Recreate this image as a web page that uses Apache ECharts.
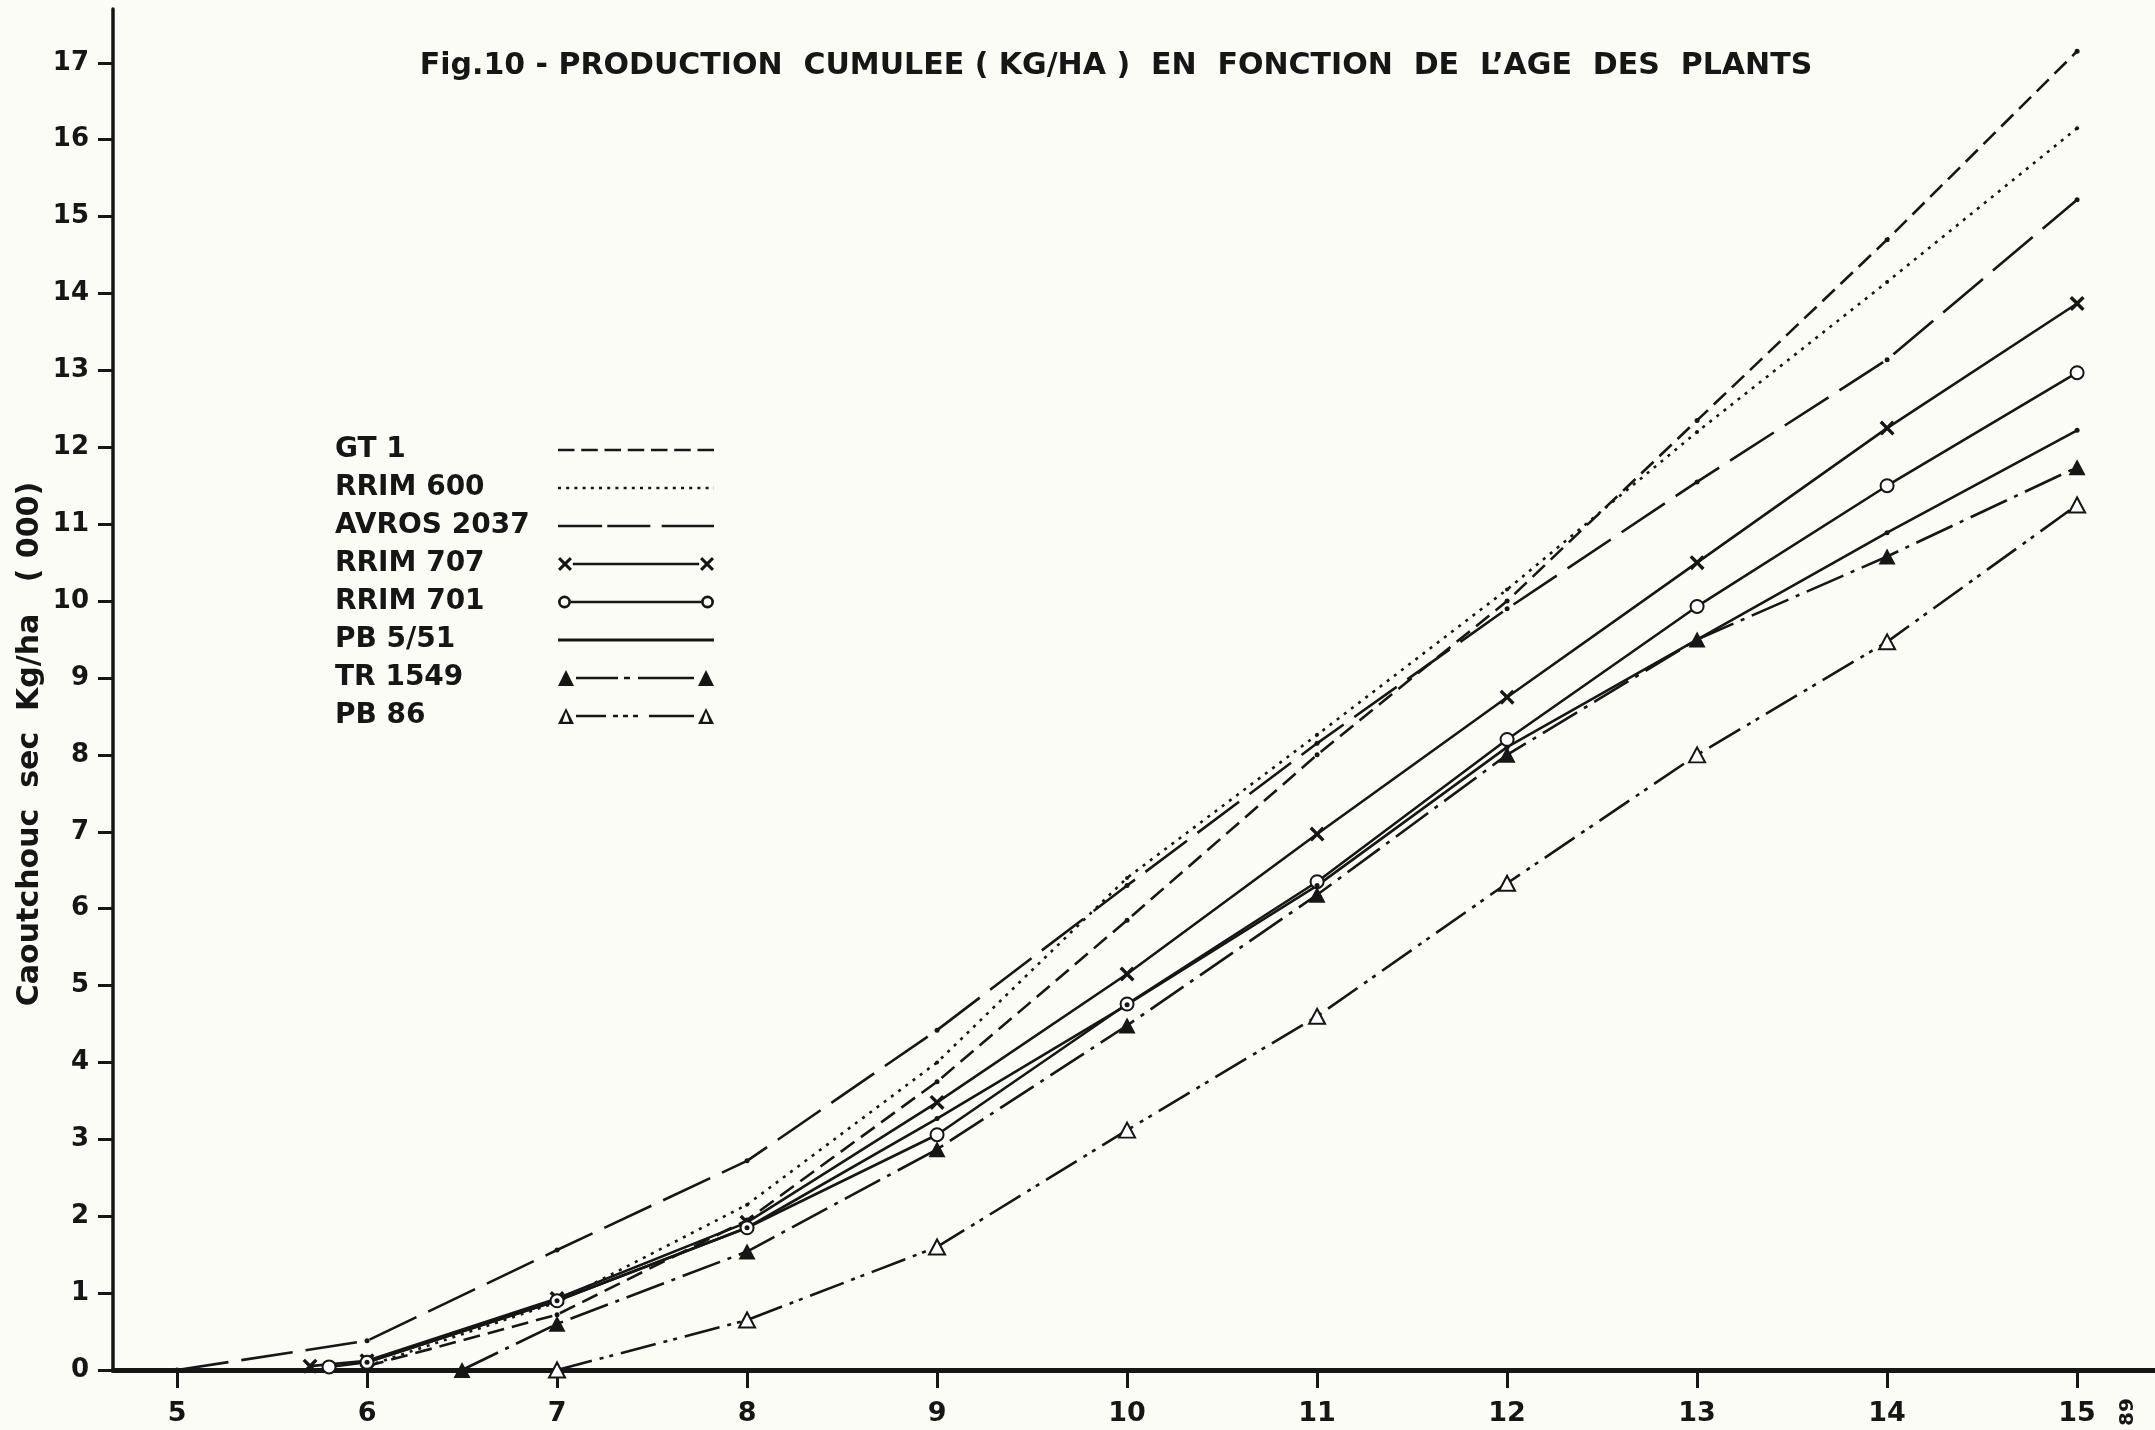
<!DOCTYPE html>
<html><head><meta charset="utf-8">
<script src="https://cdn.jsdelivr.net/npm/echarts@6/dist/echarts.min.js"></script>
<style>html,body{margin:0;padding:0;background:#fcfcf7;} #c{width:2155px;height:1430px;}</style>
</head><body><div id="c"></div>
<script>
// ---- data (age of plants, cumulative production in thousands kg/ha) ----
const ages     = [6, 7, 8, 9, 10, 11, 12, 13, 14, 15];
const gt1      = [0.05, 0.72, 1.95, 3.75, 5.85, 8.0, 10.0, 12.35, 14.7, 17.15];
const rrim600  = [0.05, 0.88, 2.15, 4.0, 6.4, 8.26, 10.15, 12.2, 14.15, 16.15];
const avros    = [0.38, 1.56, 2.72, 4.42, 6.3, 8.15, 9.9, 11.55, 13.14, 15.22];
const rrim707  = [0.12, 0.93, 1.92, 3.48, 5.15, 6.97, 8.75, 10.5, 12.25, 13.87];
const rrim701  = [0.1, 0.9, 1.85, 3.06, 4.76, 6.35, 8.2, 9.93, 11.5, 12.97];
const pb551    = [0.1, 0.9, 1.85, 3.27, 4.75, 6.3, 8.1, 9.5, 10.89, 12.22];
const tr1549   = [null, 0.6, 1.54, 2.87, 4.48, 6.18, 8.0, 9.5, 10.58, 11.74];
const pb86     = [null, 0, 0.65, 1.6, 3.12, 4.6, 6.33, 8.0, 9.47, 11.25];
// first points that lie before the common ages
const avrosStart   = [5, 0];
const rrim707Start = [5.7, 0.05];
const rrim701Start = [5.8, 0.04];
const tr1549Start  = [6.5, 0];
const names = ['GT 1', 'RRIM 600', 'AVROS 2037', 'RRIM 707', 'RRIM 701', 'PB 5/51', 'TR 1549', 'PB 86'];
const xTicks = [5, 6, 7, 8, 9, 10, 11, 12, 13, 14, 15];
const yTicks = [0,1,2,3,4,5,6,7,8,9,10,11,12,13,14,15,16,17];

function pairs(vals, start) {
  const out = start ? [start.slice()] : [];
  ages.forEach((a, i) => { if (vals[i] !== null) out.push([a, vals[i]]); });
  return out;
}

const INK = '#161616';
const FONT = '"DejaVu Sans", "Noto Sans", sans-serif';

// ---- legend icon paths (drawn as filled shapes) ----
const CY = 9, TH = 1.3;
function seg(x0, x1) { return `M${x0},${CY-TH}H${x1}V${CY+TH}H${x0}Z`; }
function pattern(x0, x1, pat) {
  let s = '', x = x0, i = 0;
  while (x < x1 - 0.01) {
    const len = pat[i % pat.length];
    if (i % 2 === 0) s += seg(x, Math.min(x + len, x1));
    x += len; i++;
  }
  return s;
}
function cross(cx, h, w) {
  const a = w / Math.SQRT2, cy = CY;
  const p = [[cx-h+a, cy-h-a],[cx+h+a, cy+h-a],[cx+h-a, cy+h+a],[cx-h-a, cy-h+a]];
  const q = [[cx-h+a, cy+h+a],[cx-h-a, cy+h-a],[cx+h-a, cy-h-a],[cx+h+a, cy-h+a]];
  const poly = pts => 'M' + pts.map(v => v[0].toFixed(2) + ',' + v[1].toFixed(2)).join('L') + 'Z';
  return poly(p) + poly(q);
}
function ring(cx, r, ri) {
  return `M${cx-r},${CY}A${r},${r} 0 1 0 ${cx+r},${CY}A${r},${r} 0 1 0 ${cx-r},${CY}Z` +
         `M${cx-ri},${CY}A${ri},${ri} 0 1 1 ${cx+ri},${CY}A${ri},${ri} 0 1 1 ${cx-ri},${CY}Z`;
}
function tri(cx, hw, hh) {
  return `M${cx},${CY-hh}L${cx+hw},${CY+hh}L${cx-hw},${CY+hh}Z`;
}
function openTri(cx, hw, hh, t) {
  const ihw = hw - t * 1.9, ihh = hh - t * 1.3;
  const cyi = CY + t * 0.35;
  return tri(cx, hw, hh) + `M${cx},${cyi-ihh}L${cx-ihw},${cyi+ihh}L${cx+ihw},${cyi+ihh}Z`;
}
const legendIcons = {
  'GT 1': 'path://' + pattern(0, 156, [16, 6.5]),
  'RRIM 600': 'path://' + pattern(0, 156, [3, 5.2]),
  'AVROS 2037': 'path://' + seg(0, 43) + seg(48, 90) + seg(101, 152),
  'RRIM 707': 'path://' + cross(6, 6, 1.5) + seg(14, 142) + cross(150, 6, 1.5),
  'RRIM 701': 'path://' + ring(6.5, 6.5, 3.8) + seg(13, 143) + ring(149.5, 6.5, 3.8),
  'PB 5/51': 'path://' + seg(7, 145),
  'TR 1549': 'path://' + tri(8, 8, 8) + seg(18, 60) + seg(66, 72) + seg(80, 136) + tri(148, 8, 8),
  'PB 86': 'path://' + openTri(8, 8, 8, 2.4) + seg(18, 48) + seg(55, 60) + seg(65, 70) + seg(75, 80) + seg(91, 136) + openTri(148, 8, 8, 2.4)
};

const crossSymbol = 'path://' + 'M0,1.6L1.6,0L5,3.4L8.4,0L10,1.6L6.6,5L10,8.4L8.4,10L5,6.6L1.6,10L0,8.4L3.4,5Z';

function lineSeries(name, data, dash, symbol, size, extra) {
  return Object.assign({
    name, type: 'line', data, symbol, symbolSize: size,
    showSymbol: true, clip: false,
    lineStyle: { color: INK, width: 2.6, type: dash, cap: 'butt' },
    itemStyle: { color: INK },
    emphasis: { disabled: true }
  }, extra || {});
}

const chart = echarts.init(document.getElementById('c'));
chart.setOption({
  animation: false,
  backgroundColor: '#fcfcf7',
  title: {
    text: 'Fig.10 - PRODUCTION  CUMULEE ( KG/HA )  EN  FONCTION  DE  L\u2019AGE  DES  PLANTS',
    left: 1111, top: 46, textAlign: 'center',
    textStyle: { fontFamily: FONT, fontSize: 30, fontWeight: 'bold', color: INK }
  },
  grid: { left: 113, right: 0, top: 9, bottom: 60, containLabel: false },
  legend: {
    orient: 'vertical', left: 330, top: 431, align: 'right',
    itemWidth: 156, itemHeight: 18, itemGap: 10, selectedMode: false,
    formatter: n => '{t|' + n + '}',
    textStyle: {
      fontFamily: FONT, fontSize: 28, fontWeight: 'bold', color: INK, lineHeight: 27,
      rich: { t: { width: 218, align: 'left', fontFamily: FONT, fontSize: 28, fontWeight: 'bold', color: INK, lineHeight: 27 } }
    },
    data: names.map(n => ({ name: n, icon: legendIcons[n], itemStyle: { color: INK, borderWidth: 0 } }))
  },
  xAxis: {
    type: 'value', min: 4.663, max: 15.41,
    axisLine: { show: true, onZero: false, lineStyle: { color: INK, width: 5 } },
    axisTick: { show: true, customValues: xTicks, length: 18, lineStyle: { color: INK, width: 3 } },
    axisLabel: { customValues: xTicks, margin: 30, fontFamily: FONT, fontSize: 27, fontWeight: 'bold', color: INK },
    splitLine: { show: false }
  },
  yAxis: {
    type: 'value', min: 0, max: 17.7,
    axisLine: { show: true, lineStyle: { color: INK, width: 3.5 } },
    axisTick: { show: true, customValues: yTicks, length: 15, lineStyle: { color: INK, width: 3 } },
    axisLabel: { customValues: yTicks, margin: 24, fontFamily: FONT, fontSize: 26, fontWeight: 'bold', color: INK },
    splitLine: { show: false }
  },
  graphic: [
    { type: 'text', x: 30, y: 744, rotation: Math.PI / 2,
      style: { text: 'Caoutchouc  sec  Kg/ha   ( 000)', align: 'center', verticalAlign: 'middle',
               fontFamily: FONT, fontSize: 30, fontWeight: 'bold', fill: INK } },
    { type: 'text', x: 2128, y: 1412, rotation: Math.PI / 2,
      style: { text: '89', align: 'center', verticalAlign: 'middle',
               fontFamily: FONT, fontSize: 20, fontWeight: 'bold', fill: INK } }
  ],
  series: [
    lineSeries('GT 1', pairs(gt1), [17, 8], 'circle', 5),
    lineSeries('RRIM 600', pairs(rrim600), [3, 6], 'circle', 4),
    lineSeries('AVROS 2037', pairs(avros, avrosStart), [52, 13], 'circle', 5),
    lineSeries('RRIM 707', pairs(rrim707, rrim707Start), 'solid', crossSymbol, 15),
    lineSeries('RRIM 701', pairs(rrim701, rrim701Start), 'solid', 'emptyCircle', 13,
               { itemStyle: { color: INK, borderWidth: 2.8 } }),
    lineSeries('PB 5/51', pairs(pb551), 'solid', 'circle', 5),
    lineSeries('TR 1549', pairs(tr1549, tr1549Start), [40, 8, 4, 8], 'triangle', [17, 16]),
    lineSeries('PB 86', pairs(pb86), [36, 8, 4, 6, 4, 8], 'emptyTriangle', [16, 15],
               { itemStyle: { color: INK, borderWidth: 3 } })
  ]
});
</script>
</body></html>
